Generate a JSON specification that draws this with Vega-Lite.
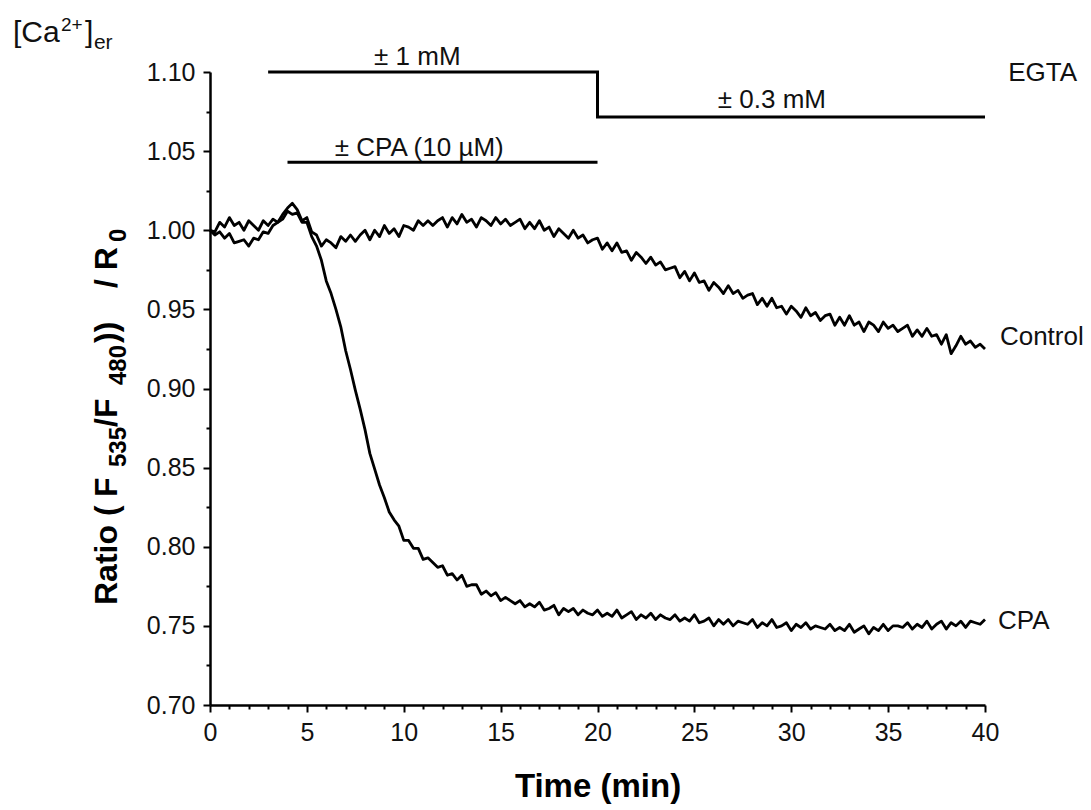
{
"$schema":"https://vega.github.io/schema/vega-lite/v6.json",
"width":775,"height":633,
"autosize":{"type":"none"},
"padding":{"left":210,"top":72,"right":106,"bottom":105},
"background":"white",
"config":{"view":{"stroke":null},"font":"Liberation Sans","axis":{"grid":false,"domainColor":"#000","tickColor":"#000","labelColor":"#111","titleColor":"#000","labelFont":"Liberation Sans","titleFont":"Liberation Sans"}},
"datasets":{
"trace":[
{"s":"Control","t":0,"v":1.000},{"s":"Control","t":0.25,"v":0.999},{"s":"Control","t":0.5,"v":1.005},{"s":"Control","t":0.75,"v":1.002},{"s":"Control","t":1,"v":1.008},{"s":"Control","t":1.25,"v":1.003},{"s":"Control","t":1.5,"v":1.005},{"s":"Control","t":1.75,"v":1.000},{"s":"Control","t":2,"v":1.006},{"s":"Control","t":2.25,"v":1.003},{"s":"Control","t":2.5,"v":1.000},{"s":"Control","t":2.75,"v":1.006},{"s":"Control","t":3,"v":1.003},{"s":"Control","t":3.25,"v":1.007},{"s":"Control","t":3.5,"v":1.005},{"s":"Control","t":3.75,"v":1.010},{"s":"Control","t":4,"v":1.014},{"s":"Control","t":4.25,"v":1.017},{"s":"Control","t":4.5,"v":1.013},{"s":"Control","t":4.75,"v":1.006},{"s":"Control","t":5,"v":1.008},{"s":"Control","t":5.25,"v":0.999},{"s":"Control","t":5.5,"v":0.997},{"s":"Control","t":5.75,"v":0.990},{"s":"Control","t":6,"v":0.994},{"s":"Control","t":6.25,"v":0.992},{"s":"Control","t":6.5,"v":0.989},{"s":"Control","t":6.75,"v":0.996},{"s":"Control","t":7,"v":0.993},{"s":"Control","t":7.25,"v":0.997},{"s":"Control","t":7.5,"v":0.993},{"s":"Control","t":7.75,"v":0.997},{"s":"Control","t":8,"v":1.000},{"s":"Control","t":8.25,"v":0.994},{"s":"Control","t":8.5,"v":1.000},{"s":"Control","t":8.75,"v":0.996},{"s":"Control","t":9,"v":1.003},{"s":"Control","t":9.25,"v":0.998},{"s":"Control","t":9.5,"v":1.001},{"s":"Control","t":9.75,"v":0.996},{"s":"Control","t":10,"v":1.003},{"s":"Control","t":10.25,"v":1.002},{"s":"Control","t":10.5,"v":1.000},{"s":"Control","t":10.75,"v":1.006},{"s":"Control","t":11,"v":1.003},{"s":"Control","t":11.25,"v":1.006},{"s":"Control","t":11.5,"v":1.003},{"s":"Control","t":11.75,"v":1.006},{"s":"Control","t":12,"v":1.008},{"s":"Control","t":12.25,"v":1.002},{"s":"Control","t":12.5,"v":1.008},{"s":"Control","t":12.75,"v":1.004},{"s":"Control","t":13,"v":1.010},{"s":"Control","t":13.25,"v":1.005},{"s":"Control","t":13.5,"v":1.007},{"s":"Control","t":13.75,"v":1.002},{"s":"Control","t":14,"v":1.008},{"s":"Control","t":14.25,"v":1.006},{"s":"Control","t":14.5,"v":1.003},{"s":"Control","t":14.75,"v":1.008},{"s":"Control","t":15,"v":1.004},{"s":"Control","t":15.25,"v":1.007},{"s":"Control","t":15.5,"v":1.003},{"s":"Control","t":15.75,"v":1.005},{"s":"Control","t":16,"v":1.007},{"s":"Control","t":16.25,"v":1.001},{"s":"Control","t":16.5,"v":1.005},{"s":"Control","t":16.75,"v":1.001},{"s":"Control","t":17,"v":1.006},{"s":"Control","t":17.25,"v":1.000},{"s":"Control","t":17.5,"v":1.002},{"s":"Control","t":17.75,"v":0.996},{"s":"Control","t":18,"v":1.001},{"s":"Control","t":18.25,"v":0.998},{"s":"Control","t":18.5,"v":0.995},{"s":"Control","t":18.75,"v":1.000},{"s":"Control","t":19,"v":0.995},{"s":"Control","t":19.25,"v":0.997},{"s":"Control","t":19.5,"v":0.992},{"s":"Control","t":19.75,"v":0.994},{"s":"Control","t":20,"v":0.995},{"s":"Control","t":20.25,"v":0.988},{"s":"Control","t":20.5,"v":0.992},{"s":"Control","t":20.75,"v":0.987},{"s":"Control","t":21,"v":0.992},{"s":"Control","t":21.25,"v":0.986},{"s":"Control","t":21.5,"v":0.987},{"s":"Control","t":21.75,"v":0.981},{"s":"Control","t":22,"v":0.986},{"s":"Control","t":22.25,"v":0.983},{"s":"Control","t":22.5,"v":0.979},{"s":"Control","t":22.75,"v":0.983},{"s":"Control","t":23,"v":0.978},{"s":"Control","t":23.25,"v":0.980},{"s":"Control","t":23.5,"v":0.975},{"s":"Control","t":23.75,"v":0.976},{"s":"Control","t":24,"v":0.977},{"s":"Control","t":24.25,"v":0.970},{"s":"Control","t":24.5,"v":0.974},{"s":"Control","t":24.75,"v":0.968},{"s":"Control","t":25,"v":0.973},{"s":"Control","t":25.25,"v":0.967},{"s":"Control","t":25.5,"v":0.968},{"s":"Control","t":25.75,"v":0.962},{"s":"Control","t":26,"v":0.967},{"s":"Control","t":26.25,"v":0.964},{"s":"Control","t":26.5,"v":0.960},{"s":"Control","t":26.75,"v":0.965},{"s":"Control","t":27,"v":0.960},{"s":"Control","t":27.25,"v":0.962},{"s":"Control","t":27.5,"v":0.957},{"s":"Control","t":27.75,"v":0.959},{"s":"Control","t":28,"v":0.960},{"s":"Control","t":28.25,"v":0.953},{"s":"Control","t":28.5,"v":0.957},{"s":"Control","t":28.75,"v":0.952},{"s":"Control","t":29,"v":0.957},{"s":"Control","t":29.25,"v":0.951},{"s":"Control","t":29.5,"v":0.952},{"s":"Control","t":29.75,"v":0.947},{"s":"Control","t":30,"v":0.952},{"s":"Control","t":30.25,"v":0.949},{"s":"Control","t":30.5,"v":0.945},{"s":"Control","t":30.75,"v":0.951},{"s":"Control","t":31,"v":0.946},{"s":"Control","t":31.25,"v":0.948},{"s":"Control","t":31.5,"v":0.943},{"s":"Control","t":31.75,"v":0.946},{"s":"Control","t":32,"v":0.947},{"s":"Control","t":32.25,"v":0.940},{"s":"Control","t":32.5,"v":0.945},{"s":"Control","t":32.75,"v":0.940},{"s":"Control","t":33,"v":0.946},{"s":"Control","t":33.25,"v":0.940},{"s":"Control","t":33.5,"v":0.942},{"s":"Control","t":33.75,"v":0.936},{"s":"Control","t":34,"v":0.942},{"s":"Control","t":34.25,"v":0.940},{"s":"Control","t":34.5,"v":0.936},{"s":"Control","t":34.75,"v":0.942},{"s":"Control","t":35,"v":0.938},{"s":"Control","t":35.25,"v":0.940},{"s":"Control","t":35.5,"v":0.936},{"s":"Control","t":35.75,"v":0.938},{"s":"Control","t":36,"v":0.940},{"s":"Control","t":36.25,"v":0.933},{"s":"Control","t":36.5,"v":0.937},{"s":"Control","t":36.75,"v":0.933},{"s":"Control","t":37,"v":0.938},{"s":"Control","t":37.25,"v":0.933},{"s":"Control","t":37.5,"v":0.934},{"s":"Control","t":37.75,"v":0.928},{"s":"Control","t":38,"v":0.934},{"s":"Control","t":38.25,"v":0.922},{"s":"Control","t":38.5,"v":0.927},{"s":"Control","t":38.75,"v":0.933},{"s":"Control","t":39,"v":0.928},{"s":"Control","t":39.25,"v":0.930},{"s":"Control","t":39.5,"v":0.926},{"s":"Control","t":39.75,"v":0.928},{"s":"Control","t":40,"v":0.925},
{"s":"CPA","t":0,"v":1.000},{"s":"CPA","t":0.25,"v":0.997},{"s":"CPA","t":0.5,"v":0.999},{"s":"CPA","t":0.75,"v":0.995},{"s":"CPA","t":1,"v":0.998},{"s":"CPA","t":1.25,"v":0.992},{"s":"CPA","t":1.5,"v":0.993},{"s":"CPA","t":1.75,"v":0.994},{"s":"CPA","t":2,"v":0.990},{"s":"CPA","t":2.25,"v":0.995},{"s":"CPA","t":2.5,"v":0.994},{"s":"CPA","t":2.75,"v":0.999},{"s":"CPA","t":3,"v":0.998},{"s":"CPA","t":3.25,"v":1.003},{"s":"CPA","t":3.5,"v":1.005},{"s":"CPA","t":3.75,"v":1.007},{"s":"CPA","t":4,"v":1.012},{"s":"CPA","t":4.25,"v":1.010},{"s":"CPA","t":4.5,"v":1.011},{"s":"CPA","t":4.75,"v":1.005},{"s":"CPA","t":5,"v":1.005},{"s":"CPA","t":5.25,"v":0.996},{"s":"CPA","t":5.5,"v":0.990},{"s":"CPA","t":5.75,"v":0.981},{"s":"CPA","t":6,"v":0.968},{"s":"CPA","t":6.25,"v":0.960},{"s":"CPA","t":6.5,"v":0.950},{"s":"CPA","t":6.75,"v":0.939},{"s":"CPA","t":7,"v":0.924},{"s":"CPA","t":7.25,"v":0.912},{"s":"CPA","t":7.5,"v":0.899},{"s":"CPA","t":7.75,"v":0.887},{"s":"CPA","t":8,"v":0.874},{"s":"CPA","t":8.25,"v":0.859},{"s":"CPA","t":8.5,"v":0.849},{"s":"CPA","t":8.75,"v":0.839},{"s":"CPA","t":9,"v":0.831},{"s":"CPA","t":9.25,"v":0.822},{"s":"CPA","t":9.5,"v":0.817},{"s":"CPA","t":9.75,"v":0.813},{"s":"CPA","t":10,"v":0.804},{"s":"CPA","t":10.25,"v":0.804},{"s":"CPA","t":10.5,"v":0.799},{"s":"CPA","t":10.75,"v":0.799},{"s":"CPA","t":11,"v":0.792},{"s":"CPA","t":11.25,"v":0.793},{"s":"CPA","t":11.5,"v":0.790},{"s":"CPA","t":11.75,"v":0.787},{"s":"CPA","t":12,"v":0.788},{"s":"CPA","t":12.25,"v":0.782},{"s":"CPA","t":12.5,"v":0.783},{"s":"CPA","t":12.75,"v":0.779},{"s":"CPA","t":13,"v":0.782},{"s":"CPA","t":13.25,"v":0.775},{"s":"CPA","t":13.5,"v":0.776},{"s":"CPA","t":13.75,"v":0.776},{"s":"CPA","t":14,"v":0.770},{"s":"CPA","t":14.25,"v":0.772},{"s":"CPA","t":14.5,"v":0.769},{"s":"CPA","t":14.75,"v":0.771},{"s":"CPA","t":15,"v":0.766},{"s":"CPA","t":15.25,"v":0.768},{"s":"CPA","t":15.5,"v":0.766},{"s":"CPA","t":15.75,"v":0.764},{"s":"CPA","t":16,"v":0.766},{"s":"CPA","t":16.25,"v":0.762},{"s":"CPA","t":16.5,"v":0.764},{"s":"CPA","t":16.75,"v":0.762},{"s":"CPA","t":17,"v":0.765},{"s":"CPA","t":17.25,"v":0.760},{"s":"CPA","t":17.5,"v":0.761},{"s":"CPA","t":17.75,"v":0.763},{"s":"CPA","t":18,"v":0.757},{"s":"CPA","t":18.25,"v":0.761},{"s":"CPA","t":18.5,"v":0.759},{"s":"CPA","t":18.75,"v":0.761},{"s":"CPA","t":19,"v":0.757},{"s":"CPA","t":19.25,"v":0.760},{"s":"CPA","t":19.5,"v":0.758},{"s":"CPA","t":19.75,"v":0.757},{"s":"CPA","t":20,"v":0.760},{"s":"CPA","t":20.25,"v":0.756},{"s":"CPA","t":20.5,"v":0.758},{"s":"CPA","t":20.75,"v":0.756},{"s":"CPA","t":21,"v":0.760},{"s":"CPA","t":21.25,"v":0.755},{"s":"CPA","t":21.5,"v":0.757},{"s":"CPA","t":21.75,"v":0.759},{"s":"CPA","t":22,"v":0.754},{"s":"CPA","t":22.25,"v":0.757},{"s":"CPA","t":22.5,"v":0.755},{"s":"CPA","t":22.75,"v":0.758},{"s":"CPA","t":23,"v":0.754},{"s":"CPA","t":23.25,"v":0.757},{"s":"CPA","t":23.5,"v":0.755},{"s":"CPA","t":23.75,"v":0.754},{"s":"CPA","t":24,"v":0.757},{"s":"CPA","t":24.25,"v":0.753},{"s":"CPA","t":24.5,"v":0.755},{"s":"CPA","t":24.75,"v":0.753},{"s":"CPA","t":25,"v":0.757},{"s":"CPA","t":25.25,"v":0.752},{"s":"CPA","t":25.5,"v":0.753},{"s":"CPA","t":25.75,"v":0.755},{"s":"CPA","t":26,"v":0.750},{"s":"CPA","t":26.25,"v":0.754},{"s":"CPA","t":26.5,"v":0.751},{"s":"CPA","t":26.75,"v":0.754},{"s":"CPA","t":27,"v":0.750},{"s":"CPA","t":27.25,"v":0.753},{"s":"CPA","t":27.5,"v":0.752},{"s":"CPA","t":27.75,"v":0.751},{"s":"CPA","t":28,"v":0.754},{"s":"CPA","t":28.25,"v":0.749},{"s":"CPA","t":28.5,"v":0.752},{"s":"CPA","t":28.75,"v":0.750},{"s":"CPA","t":29,"v":0.754},{"s":"CPA","t":29.25,"v":0.749},{"s":"CPA","t":29.5,"v":0.750},{"s":"CPA","t":29.75,"v":0.752},{"s":"CPA","t":30,"v":0.747},{"s":"CPA","t":30.25,"v":0.751},{"s":"CPA","t":30.5,"v":0.749},{"s":"CPA","t":30.75,"v":0.752},{"s":"CPA","t":31,"v":0.748},{"s":"CPA","t":31.25,"v":0.750},{"s":"CPA","t":31.5,"v":0.749},{"s":"CPA","t":31.75,"v":0.748},{"s":"CPA","t":32,"v":0.751},{"s":"CPA","t":32.25,"v":0.747},{"s":"CPA","t":32.5,"v":0.749},{"s":"CPA","t":32.75,"v":0.747},{"s":"CPA","t":33,"v":0.751},{"s":"CPA","t":33.25,"v":0.746},{"s":"CPA","t":33.5,"v":0.748},{"s":"CPA","t":33.75,"v":0.750},{"s":"CPA","t":34,"v":0.745},{"s":"CPA","t":34.25,"v":0.749},{"s":"CPA","t":34.5,"v":0.747},{"s":"CPA","t":34.75,"v":0.751},{"s":"CPA","t":35,"v":0.747},{"s":"CPA","t":35.25,"v":0.750},{"s":"CPA","t":35.5,"v":0.750},{"s":"CPA","t":35.75,"v":0.749},{"s":"CPA","t":36,"v":0.752},{"s":"CPA","t":36.25,"v":0.748},{"s":"CPA","t":36.5,"v":0.751},{"s":"CPA","t":36.75,"v":0.749},{"s":"CPA","t":37,"v":0.753},{"s":"CPA","t":37.25,"v":0.748},{"s":"CPA","t":37.5,"v":0.751},{"s":"CPA","t":37.75,"v":0.753},{"s":"CPA","t":38,"v":0.748},{"s":"CPA","t":38.25,"v":0.752},{"s":"CPA","t":38.5,"v":0.750},{"s":"CPA","t":38.75,"v":0.753},{"s":"CPA","t":39,"v":0.749},{"s":"CPA","t":39.25,"v":0.753},{"s":"CPA","t":39.5,"v":0.752},{"s":"CPA","t":39.75,"v":0.751},{"s":"CPA","t":40,"v":0.754}
],
"bars":[
{"g":"EGTA","o":1,"t":3,"v":1.1},{"g":"EGTA","o":2,"t":20,"v":1.1},{"g":"EGTA","o":3,"t":20,"v":1.0715},{"g":"EGTA","o":4,"t":40,"v":1.0715},
{"g":"CPA","o":1,"t":4,"v":1.043},{"g":"CPA","o":2,"t":20,"v":1.043}
],
"centerText":[
{"t":10.7,"v":1.1095,"label":"± 1 mM"},
{"t":10.8,"v":1.052,"label":"± CPA (10 µM)"},
{"t":29.0,"v":1.0823,"label":"± 0.3 mM"}
],
"leftText":[
{"t":41.2,"v":1.0994,"label":"EGTA"},
{"t":40.77,"v":0.9325,"label":"Control"},
{"t":40.67,"v":0.7531,"label":"CPA"}
],
"caText":[
{"t":-10.17,"v":1.1246,"label":"[Ca"},
{"t":-6.45,"v":1.1246,"label":"]"}
],
"supText":[{"t":-7.69,"v":1.1297,"label":"2+"}],
"subText":[{"t":-5.99,"v":1.1183,"label":"er"}],
"yMain":[
{"t":-4.8,"v":0.7632,"label":"Ratio ("},
{"t":-4.8,"v":0.8314,"label":"F"},
{"t":-4.8,"v":0.8757,"label":"/F"},
{"t":-4.8,"v":0.9288,"label":"))"},
{"t":-4.8,"v":0.9635,"label":"/ R"}
],
"ySub":[
{"t":-4.34,"v":0.8504,"label":"535"},
{"t":-4.34,"v":0.9022,"label":"480"},
{"t":-4.34,"v":0.9926,"label":"0"}
]
},
"layer":[
{"data":{"name":"trace"},
 "mark":{"type":"line","color":"#000","strokeWidth":2.8,"strokeJoin":"round"},
 "encoding":{
  "x":{"field":"t","type":"quantitative","scale":{"domain":[0,40],"nice":false},
   "axis":{"orient":"bottom","tickCount":100,"values":[0,1,2,3,4,5,6,7,8,9,10,11,12,13,14,15,16,17,18,19,20,21,22,23,24,25,26,27,28,29,30,31,32,33,34,35,36,37,38,39,40],
    "labelExpr":"round(datum.value) % 5 === 0 ? format(round(datum.value), 'd') : ''","labelFlush":false,"labelOverlap":false,
    "tickSize":{"condition":{"test":"round(datum.value) % 5 === 0","value":7},"value":4},
    "tickWidth":2,"domainWidth":2.5,"labelFontSize":25,"labelPadding":8,"title":"Time (min)","titleFontSize":33,"titleFontWeight":"bold","titleY":91,"titleBaseline":"alphabetic"}},
  "y":{"field":"v","type":"quantitative","scale":{"domain":[0.7,1.1],"nice":false,"zero":false},
   "axis":{"orient":"left","tickCount":100,"values":[0.7,0.725,0.75,0.775,0.8,0.825,0.85,0.875,0.9,0.925,0.95,0.975,1.0,1.025,1.05,1.075,1.1],
    "labelExpr":"round(datum.value*1000) % 50 === 0 ? format(datum.value, '.2f') : ''","labelFlush":false,"labelOverlap":false,
    "tickSize":{"condition":{"test":"round(datum.value*1000) % 50 === 0","value":7},"value":4},
    "tickWidth":2,"domainWidth":2.5,"labelFontSize":25,"labelPadding":8,"title":null}},
  "detail":{"field":"s"}}},
{"data":{"name":"bars"},
 "mark":{"type":"line","color":"#000","strokeWidth":3,"strokeJoin":"miter","strokeCap":"butt"},
 "encoding":{
  "x":{"field":"t","type":"quantitative"},
  "y":{"field":"v","type":"quantitative"},
  "detail":{"field":"g"},
  "order":{"field":"o"}}},
{"data":{"name":"centerText"},
 "mark":{"type":"text","font":"Liberation Sans","fontSize":26,"align":"center","baseline":"middle","color":"#111"},
 "encoding":{"x":{"field":"t","type":"quantitative"},"y":{"field":"v","type":"quantitative"},"text":{"field":"label"}}},
{"data":{"name":"leftText"},
 "mark":{"type":"text","font":"Liberation Sans","fontSize":26,"align":"left","baseline":"middle","color":"#111"},
 "encoding":{"x":{"field":"t","type":"quantitative"},"y":{"field":"v","type":"quantitative"},"text":{"field":"label"}}},
{"data":{"name":"caText"},
 "mark":{"type":"text","font":"Liberation Sans","fontSize":30,"align":"left","baseline":"middle","color":"#111"},
 "encoding":{"x":{"field":"t","type":"quantitative"},"y":{"field":"v","type":"quantitative"},"text":{"field":"label"}}},
{"data":{"name":"supText"},
 "mark":{"type":"text","font":"Liberation Sans","fontSize":19,"align":"left","baseline":"middle","color":"#111"},
 "encoding":{"x":{"field":"t","type":"quantitative"},"y":{"field":"v","type":"quantitative"},"text":{"field":"label"}}},
{"data":{"name":"subText"},
 "mark":{"type":"text","font":"Liberation Sans","fontSize":21,"align":"left","baseline":"middle","color":"#111"},
 "encoding":{"x":{"field":"t","type":"quantitative"},"y":{"field":"v","type":"quantitative"},"text":{"field":"label"}}},
{"data":{"name":"yMain"},
 "mark":{"type":"text","font":"Liberation Sans","fontSize":32,"fontWeight":"bold","angle":270,"align":"left","baseline":"alphabetic","color":"#000"},
 "encoding":{"x":{"field":"t","type":"quantitative"},"y":{"field":"v","type":"quantitative"},"text":{"field":"label"}}},
{"data":{"name":"ySub"},
 "mark":{"type":"text","font":"Liberation Sans","fontSize":24,"fontWeight":"bold","angle":270,"align":"left","baseline":"alphabetic","color":"#000"},
 "encoding":{"x":{"field":"t","type":"quantitative"},"y":{"field":"v","type":"quantitative"},"text":{"field":"label"}}}
]
}
